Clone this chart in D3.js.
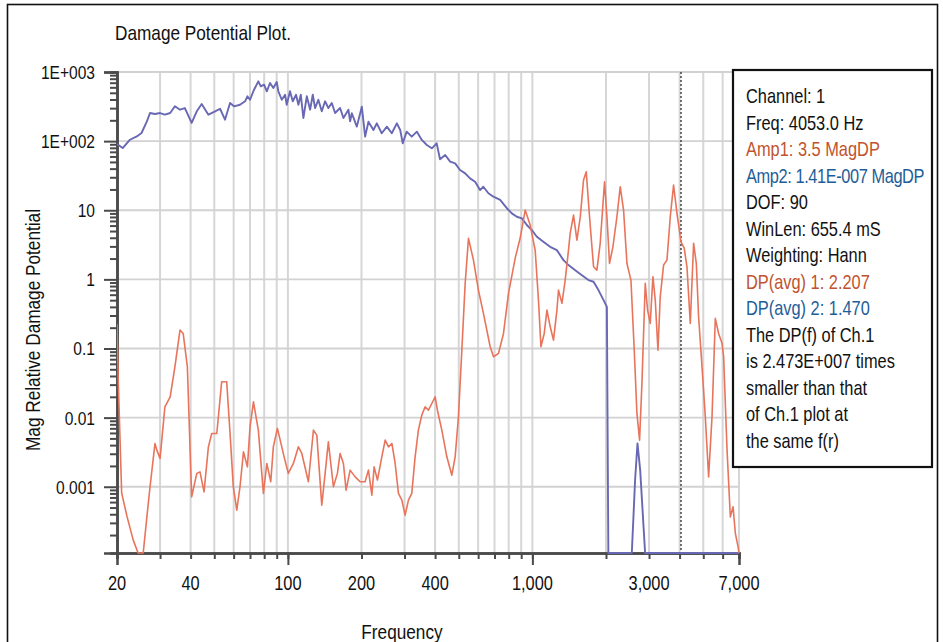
<!DOCTYPE html>
<html><head><meta charset="utf-8">
<script src="https://cdn.jsdelivr.net/npm/d3@7"></script>
<style>
body{margin:0;background:#fff;}
svg{display:block;font-family:"Liberation Sans",Arial,Helvetica,sans-serif;}
</style></head><body>
<svg id="chart" width="943" height="642"></svg>
<script>
// ---- data (frequency Hz, magnitude) ----
const blueSeries = [[20,90.8],[21.1,79.4],[22.6,104.7],[24.1,117],[25.2,131],[26.5,193],[27.3,255],[28.6,247],[30,255],[31.4,241],[33.0,255],[34.5,319],[36.2,285],[37.9,301],[40.4,183],[42.4,270],[44.4,344],[47.3,241],[50.4,270],[52.8,294],[55.3,204],[58.0,356],[60.2,319],[63.7,336],[66.8,377],[68.3,445],[70.0,397],[72.7,554],[75.7,733],[77.5,621],[79.9,655],[82.0,526],[84.5,693],[87.2,587],[90,717],[91.4,526],[94.4,397],[97.4,469],[98.9,336],[102,526],[104.7,377],[108,469],[110.4,336],[112.9,469],[115.7,216],[119.5,445],[123.3,285],[126.4,469],[129.2,301],[133.2,397],[137.6,270],[141.9,377],[146.4,301],[151.2,356],[156,255],[163.5,301],[168.7,216],[176.8,285],[179.7,193],[182.6,253],[191.4,162],[200.6,315],[207,116],[213.5,191],[223.8,145],[231,181],[242,130],[254,162],[266,130],[279,181],[288,145],[295,93],[306,137],[321,116],[337,137],[353,104],[370,87.8],[388,78.7],[406,93],[419,54.5],[440,62.9],[461,50.4],[483,47.7],[506,38.2],[531,34.2],[556,28.9],[583,25.9],[611,19.6],[630,21.9],[661,17.6],[693,15.7],[738,14.1],[786,10.7],[824,9.02],[864,8.05],[906,7.63],[949,6.11],[995,5.17],[1043,4.14],[1109,3.50],[1182,2.96],[1259,2.65],[1340,1.90],[1405,1.61],[1497,1.36],[1594,1.15],[1695,0.977],[1779,0.923],[1863,0.70],[1955,0.50],[2017,0.40],[2045,1.0e-7],[2551,1.0e-7],[2631,0.00125],[2691,0.00424],[2760,0.00174],[2891,1.0e-7],[4053,1.41e-7],[7000,1.2e-7]];

const orangeSeries = [[20,0.225],[20.25,0.0316],[20.9,8.07e-4],[22.0,3.66e-4],[23.3,1.69e-4],[24.4,1e-4],[25.6,1e-4],[26.5,3.66e-4],[27.3,1.0e-3],[28.6,4.23e-3],[29.1,3.39e-3],[30,2.57e-3],[31.4,0.0143],[33.0,0.0200],[34.5,0.0543],[36.2,0.185],[37.3,0.165],[38.8,0.0543],[40.4,7.14e-4],[42.4,1.56e-3],[43.7,1.64e-3],[45.4,8.43e-4],[47.3,3.78e-3],[48.8,5.90e-3],[51.2,5.90e-3],[53.6,0.033],[56.2,0.033],[58.0,5.90e-3],[59.8,1.0e-3],[61.8,4.58e-4],[63.7,1.0e-3],[65.8,3.20e-3],[68.3,1.94e-3],[70.0,7.36e-3],[72.3,0.0169],[75.7,6.59e-3],[79.4,8.0e-4],[82.0,2.17e-3],[85.1,1.18e-3],[87.2,3.78e-3],[90.6,6.98e-3],[94.4,3.78e-3],[96.5,2.71e-3],[100.4,1.56e-3],[105.3,2.17e-3],[110.4,3.78e-3],[114.0,3.03e-3],[121.3,1.18e-3],[127.2,6.59e-3],[131.3,5.58e-3],[137.6,5.42e-4],[142.0,1.56e-3],[146.4,4.47e-3],[153.5,1.0e-3],[159.4,1.56e-3],[163.5,3.03e-3],[168.7,2.17e-3],[173.0,8.93e-4],[179.7,1.74e-3],[188.4,1.39e-3],[197.4,1.18e-3],[206.9,1.18e-3],[213.5,1.74e-3],[220.5,7.55e-4],[225.3,1.94e-3],[232.4,1.25e-3],[242.2,2.71e-3],[250.0,4.72e-3],[257.9,3.78e-3],[266.3,4.23e-3],[274.6,2.17e-3],[283.3,8.0e-4],[292.5,6.40e-4],[301.7,3.88e-4],[311.2,6.40e-4],[321.2,8.0e-4],[331.4,2.71e-3],[341.8,6.59e-3],[353.0,0.0109],[364.2,0.0143],[375.7,0.0128],[387.9,0.0160],[400.2,0.0200],[408.9,0.0128],[426.2,6.59e-3],[446.8,2.71e-3],[468.3,1.47e-3],[483.2,2.71e-3],[498.4,0.0103],[514.6,0.0948],[531,0.875],[547.8,3.92],[574.1,1.90],[601.6,0.70],[630.6,0.322],[672,0.106],[693.6,0.0759],[726.8,0.0849],[761.8,0.165],[798.5,0.627],[850.6,2.03],[891.4,3.96],[934.5,10.07],[979.4,6.11],[1026.6,2.65],[1059,0.501],[1084,0.106],[1118,0.165],[1147,0.360],[1183,0.206],[1220,0.132],[1260,0.360],[1279,0.70],[1321,0.450],[1362,0.977],[1405,2.65],[1428,4.68],[1473,8.52],[1521,3.70],[1570,8.05],[1619,27.4],[1661,36.1],[1713,8.05],[1779,1.52],[1836,1.36],[1894,3.32],[1973,25.8],[2018,8.05],[2068,1.70],[2135,2.96],[2217,8.05],[2287,21.9],[2360,10.07],[2437,1.70],[2530,0.977],[2610,0.0948],[2677,0.0115],[2744,4.72e-3],[2806,0.0313],[2895,0.875],[2959,0.360],[3034,0.231],[3112,1.09],[3181,0.501],[3263,0.0948],[3334,0.56],[3440,1.61],[3552,1.90],[3664,8.05],[3780,23.2],[3903,9.02],[4053,3.5],[4178,2.84],[4288,1.52],[4424,0.231],[4565,3.32],[4683,1.70],[4785,0.288],[4941,0.0543],[5097,0.0103],[5258,1.39e-3],[5429,0.0103],[5600,0.273],[5777,0.165],[5965,0.119],[6057,0.0759],[6255,3.39e-3],[6452,3.66e-4],[6619,5.12e-4],[6764,2.11e-4],[6940,1.35e-4],[7000,1.0e-4]];

const xTickValues = [20,40,100,200,400,1000,3000,7000];
const xTickLabels = ["20","40","100","200","400","1,000","3,000","7,000"];
const xMajorTicks = [100,1000];
const yTickValues = [1000,100,10,1,0.1,0.01,0.001];
const yTickLabels = ["1E+003","1E+002","10","1","0.1","0.01","0.001"];
const cursorFreq = 4053;
const titleText = "Damage Potential Plot.";
const xTitle = "Frequency";
const yTitle = "Mag Relative Damage Potential";
const legendLines = ["Channel: 1","Freq: 4053.0 Hz","Amp1: 3.5 MagDP","Amp2: 1.41E-007 MagDP","DOF: 90","WinLen: 655.4 mS","Weighting: Hann","DP(avg) 1: 2.207","DP(avg) 2: 1.470","The DP(f) of Ch.1","is 2.473E+007 times","smaller than that","of Ch.1 plot at","the same f(r)"];
const legendKinds = ["k","k","a","b","k","k","k","a","b","k","k","k","k","k"];

// ---- drawing ----
const plot = {left:117, right:739, top:72, bottom:553};
const svg = d3.select("#chart");
const colors = {k:"#111", a:"#c0532e", b:"#1e5e98"};
const NARROW = 0.82; // condensed look

function label(parent, tx, ty, str, size, anchor, fill, rot, spacing) {
  return parent.append("text")
    .attr("transform", `translate(${tx},${ty})` + (rot ? ` rotate(${rot})` : "") + ` scale(${NARROW},1)`)
    .attr("text-anchor", anchor || "start")
    .attr("fill", fill || "#111")
    .style("font-size", size + "px")
    .style("letter-spacing", (spacing || 0) + "px")
    .text(str);
}

svg.append("rect").attr("x",7.5).attr("y",4.5).attr("width",930).attr("height",660)
  .attr("fill","#fff").attr("stroke","#111").attr("stroke-width",1.6);

const x = d3.scaleLog().domain([20,7000]).range([plot.left, plot.right]);
const y = d3.scaleLog().domain([1.1e-4,1000]).range([plot.bottom, plot.top]).clamp(true);

// grid
const xGrid = x.ticks().filter(d => d > 20);
svg.append("g").selectAll("line").data(xGrid).join("line")
  .attr("x1", d => x(d)).attr("x2", d => x(d))
  .attr("y1", plot.top).attr("y2", plot.bottom)
  .attr("stroke","#d6d6d6").attr("stroke-width",2);
svg.append("g").selectAll("line").data(yTickValues).join("line")
  .attr("x1", plot.left).attr("x2", plot.right)
  .attr("y1", d => y(d)).attr("y2", d => y(d))
  .attr("stroke","#d2d2d2").attr("stroke-width",1.8);

// cursor
svg.append("line").attr("x1",x(cursorFreq)).attr("x2",x(cursorFreq))
  .attr("y1",plot.top).attr("y2",plot.bottom)
  .attr("stroke","#444").attr("stroke-width",1.5).attr("stroke-dasharray","2,2");

// axes
const axisColor = "#4a4a4a";
const yMinor = y.ticks().filter(d => Math.abs(Math.log10(d) - Math.round(Math.log10(d))) > 1e-6);
const gyMinor = svg.append("g").attr("transform",`translate(${plot.left},0)`)
  .call(d3.axisLeft(y).tickValues(yMinor).tickSize(7).tickFormat(""));
const gy = svg.append("g").attr("transform",`translate(${plot.left},0)`)
  .call(d3.axisLeft(y).tickValues(yTickValues).tickSize(13).tickFormat(""));
const gxMinor = svg.append("g").attr("transform",`translate(0,${plot.bottom})`)
  .call(d3.axisBottom(x).tickValues(x.ticks()).tickSize(6).tickFormat(""));
const gxMajor = svg.append("g").attr("transform",`translate(0,${plot.bottom})`)
  .call(d3.axisBottom(x).tickValues(xMajorTicks).tickSize(12).tickFormat(""));
[gyMinor, gy, gxMinor, gxMajor].forEach(g => {
  g.select(".domain").attr("stroke",axisColor).attr("stroke-width",2.5);
  g.selectAll(".tick line").attr("stroke",axisColor).attr("stroke-width",2);
});

const yLabG = svg.append("g");
yTickValues.forEach((d,i) => label(yLabG, 95, y(d) + 7, yTickLabels[i], 19, "end"));
const xLabG = svg.append("g");
xTickValues.forEach((d,i) => label(xLabG, x(d), 590, xTickLabels[i], 20, "middle"));

// lines
svg.append("defs").append("clipPath").attr("id","clip").append("rect")
  .attr("x",plot.left).attr("y",plot.top-2).attr("width",plot.right-plot.left+2).attr("height",plot.bottom-plot.top+3);
const line = d3.line().x(d => x(d[0])).y(d => y(d[1]));
const lines = svg.append("g").attr("clip-path","url(#clip)");
lines.append("path").datum(blueSeries).attr("d",line).attr("fill","none")
  .attr("stroke","#6868b4").attr("stroke-width",1.9).attr("stroke-linejoin","round");
lines.append("path").datum(orangeSeries).attr("d",line).attr("fill","none")
  .attr("stroke","#e8745b").attr("stroke-width",1.6).attr("stroke-linejoin","round");

// titles
label(svg, 115, 40, titleText, 21, "start");
label(svg, 402, 639, xTitle, 21, "middle");
label(svg, 40, 330, yTitle, 21, "middle", "#111", -90);

// legend box
svg.append("rect").attr("x",733).attr("y",70).attr("width",199).attr("height",397)
  .attr("fill","#fff").attr("stroke","#111").attr("stroke-width",2.2);
const legG = svg.append("g");
legendLines.forEach((d,i) => label(legG, 746, 103 + i*26.5, d, 20, "start",
  colors[legendKinds[i]], 0, d.length > 20 ? -0.5 : 0));
</script>
</body></html>
